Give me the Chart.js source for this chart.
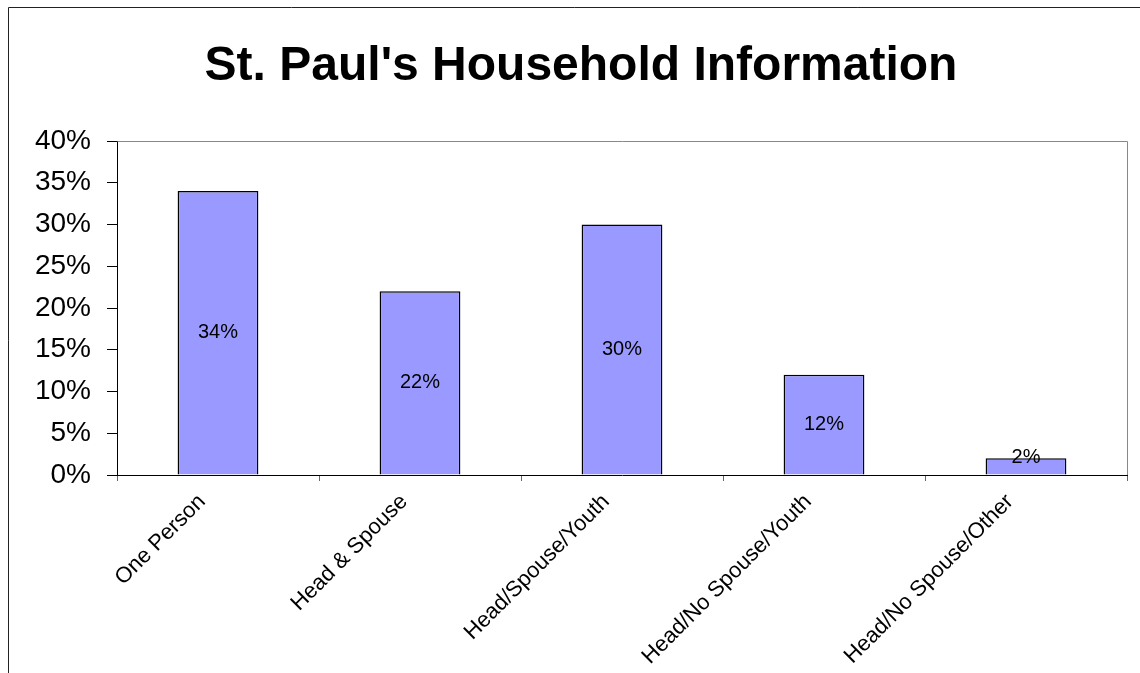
<!DOCTYPE html>
<html>
<head>
<meta charset="utf-8">
<script src="https://cdn.jsdelivr.net/npm/chart.js@4.4.1/dist/chart.umd.min.js"></script>
<style>
  html, body { margin: 0; padding: 0; background: #fff; }
  #wrap { width: 1140px; height: 673px; position: relative; }
</style>
</head>
<body>
<div id="wrap"><canvas id="c" width="1140" height="673"></canvas></div>
<script>
const categories = ["One Person", "Head & Spouse", "Head/Spouse/Youth", "Head/No Spouse/Youth", "Head/No Spouse/Other"];
const values = [34, 22, 30, 12, 2];
const valueLabels = ["34%", "22%", "30%", "12%", "2%"];
const yTickValues = [0, 5, 10, 15, 20, 25, 30, 35, 40];
const chartTitle = "St. Paul's Household Information";

const FONT = "'Liberation Sans', Arial, Helvetica, sans-serif";

const framePlugin = {
  id: 'frame',
  beforeDraw(chart) {
    const ctx = chart.ctx;
    ctx.save();
    ctx.fillStyle = '#ffffff';
    ctx.fillRect(0, 0, chart.width, chart.height);
    ctx.strokeStyle = '#222';
    ctx.lineWidth = 1;
    ctx.beginPath();
    ctx.moveTo(8.5, chart.height);
    ctx.lineTo(8.5, 7.5);
    ctx.lineTo(chart.width, 7.5);
    ctx.stroke();
    // title
    ctx.fillStyle = '#000';
    ctx.font = "bold 48px " + FONT;
    ctx.textAlign = 'center';
    ctx.textBaseline = 'middle';
    ctx.fillText(chartTitle, 581, 67);
    ctx.restore();
  },
  afterDraw(chart) {
    const a = chart.chartArea;
    const ctx = chart.ctx;
    ctx.save();
    ctx.strokeStyle = '#888';
    ctx.lineWidth = 1;
    ctx.beginPath();
    ctx.moveTo(Math.round(a.left) + 0.5, Math.round(a.top) + 0.5);
    ctx.lineTo(Math.round(a.right) + 0.5, Math.round(a.top) + 0.5);
    ctx.lineTo(Math.round(a.right) + 0.5, Math.round(a.bottom));
    ctx.stroke();
    ctx.restore();
  }
};

const valueLabelPlugin = {
  id: 'valueLabels',
  afterDatasetsDraw(chart) {
    const ctx = chart.ctx;
    const meta = chart.getDatasetMeta(0);
    ctx.save();
    ctx.font = "20px " + FONT;
    ctx.fillStyle = '#000';
    ctx.textAlign = 'center';
    ctx.textBaseline = 'middle';
    meta.data.forEach((bar, i) => {
      const base = bar.base;
      let y = (bar.y + base) / 2;
      y = Math.min(y, base - 17);
      ctx.fillText(valueLabels[i], bar.x, y);
    });
    ctx.restore();
  }
};

new Chart(document.getElementById('c'), {
  type: 'bar',
  data: {
    labels: categories,
    datasets: [{
      data: values,
      backgroundColor: '#9999FF',
      borderColor: '#000000',
      borderWidth: 1.5,
      barPercentage: 0.4,
      categoryPercentage: 1.0
    }]
  },
  options: {
    responsive: false,
    animation: false,
    devicePixelRatio: 1,
    layout: { padding: { left: 0, right: 13, top: 141, bottom: 0 } },
    plugins: {
      legend: { display: false },
      tooltip: { enabled: false },
      title: { display: false }
    },
    scales: {
      x: {
        afterFit(scale) { scale.height = 198; },
        grid: {
          display: true,
          drawOnChartArea: false,
          drawTicks: true,
          tickLength: 6,
          offset: true,
          color: '#666'
        },
        border: { display: true, color: '#000', width: 1 },
        ticks: {
          maxRotation: 45,
          minRotation: 45,
          autoSkip: false,
          color: '#000',
          padding: 8,
          labelOffset: -16,
          font: { family: FONT, size: 22 }
        }
      },
      y: {
        min: 0,
        max: 40,
        afterFit(scale) { scale.width = 117; },
        afterBuildTicks(scale) { scale.ticks = yTickValues.map(v => ({ value: v })); },
        grid: {
          display: true,
          drawOnChartArea: false,
          drawTicks: true,
          tickLength: 10,
          color: '#000'
        },
        border: { display: true, color: '#000', width: 1 },
        ticks: {
          stepSize: 5,
          color: '#000',
          padding: 16,
          font: { family: FONT, size: 28 },
          callback: (v) => v + '%'
        }
      }
    }
  },
  plugins: [framePlugin, valueLabelPlugin]
});
</script>
</body>
</html>
